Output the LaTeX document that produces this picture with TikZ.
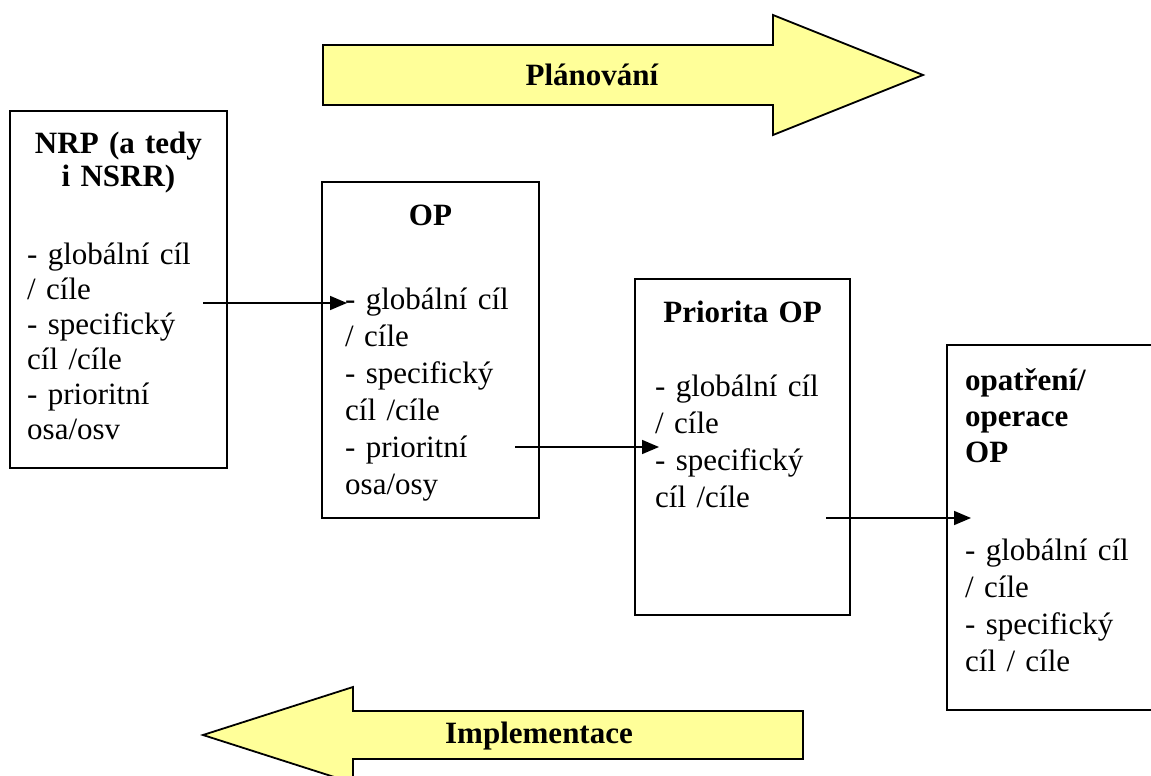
\documentclass[tikz,border=0pt]{standalone}
\usepackage{fontspec}
\setmainfont{Liberation Serif}
\usetikzlibrary{arrows.meta}
\definecolor{paleyellow}{RGB}{255,255,153}

\begin{document}
\begin{tikzpicture}[
  x=1pt, y=-1pt,
  >={Triangle[length=17pt,width=14pt]},
  box/.style={draw, line width=1.8pt, anchor=north west, inner sep=0pt, outer sep=0pt},
  head/.style={text width=205pt, align=center, anchor=base, inner sep=0pt,
    font=\bfseries\fontsize{31}{33}\selectfont},
  items/.style={text width=205pt, align=left, anchor=base west, inner sep=0pt,
    font=\fontsize{31}{#1}\selectfont},
  bigarrow/.style={draw, line width=1.8pt, fill=paleyellow, line join=miter},
  caption/.style={font=\bfseries\fontsize{31}{36}\selectfont}
]
  \useasboundingbox (0,0) rectangle (1151,776);
  \clip (0,0) rectangle (1151,776);

  \draw[bigarrow] (323,45) -- (773,45) -- (773,15) -- (923,75) -- (773,135)
    -- (773,105) -- (323,105) -- cycle;
  \node[caption] (plan) at (592,75) {Plánování};
  \draw[bigarrow] (803,711) -- (353,711) -- (353,687) -- (203,735) -- (353,783)
    -- (353,759) -- (803,759) -- cycle;
  \node[caption] (impl) at (539,736) {Implementace};

  \node[box, minimum width=217pt, minimum height=357pt] (nrp) at (10,111) {};
  \node[box, minimum width=217pt, minimum height=336pt] (op) at (322,182) {};
  \node[box, minimum width=215pt, minimum height=336pt] (prio) at (635,279) {};
  \node[box, minimum width=217pt, minimum height=365pt] (opat) at (947,345) {};

  \node[head] (nrpH) at (118.5,153) {NRP (a tedy\\ i NSRR)};
  \node[items=35] (nrpL) at (27,264)
    {- globální cíl\\ / cíle\\ - specifický\\ cíl /cíle\\ - prioritní\\ osa/osv};
  \node[head] (opH) at (430.5,225) {OP};
  \node[items=37] (opL) at (345,309)
    {- globální cíl\\ / cíle\\ - specifický\\ cíl /cíle\\ - prioritní\\ osa/osy};
  \node[head] (prioH) at (742.5,322) {Priorita OP};
  \node[items=37] (prioL) at (655,396)
    {- globální cíl\\ / cíle\\ - specifický\\ cíl /cíle};
  \node[items=36] (opatH) at (965,390) {\bfseries opatření/\\ operace\\ OP};
  \node[items=37] (opatL) at (965,560)
    {- globální cíl\\ / cíle\\ - specifický\\ cíl / cíle};

  \coordinate (a1s) at (203,303);
  \coordinate (a1e) at (347,303);
  \coordinate (a2s) at (515,447);
  \coordinate (a2e) at (659,447);
  \coordinate (a3s) at (826,518);
  \coordinate (a3e) at (971,518);

  \path[->, line width=1.6pt]
    (a1s) edge (a1e)
    (a2s) edge (a2e)
    (a3s) edge (a3e);
\end{tikzpicture}
\end{document}
